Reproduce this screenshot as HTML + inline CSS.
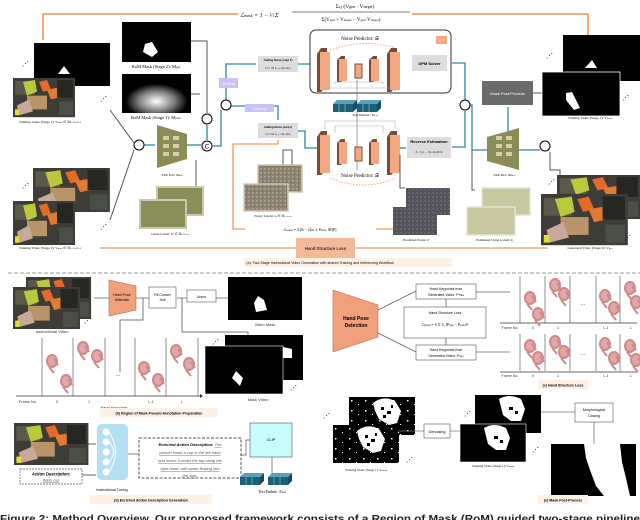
<!DOCTYPE html>
<html><head><meta charset="utf-8"><style>
html,body{margin:0;padding:0;background:#fff;width:640px;height:520px;overflow:hidden}
svg{display:block;font-family:"Liberation Sans",sans-serif}
.s{font-family:"Liberation Serif",serif}
</style></head><body>
<svg width="640" height="520" viewBox="0 0 640 520" xmlns="http://www.w3.org/2000/svg">
<defs>
<g id="photo">
<rect x="0" y="0" width="62" height="40" fill="#3e3c36"/>
<rect x="2" y="3" width="20" height="14" fill="#5b5a4a"/>
<path d="M10 4 L22 2 L24 14 L14 18 Z" fill="#b9c83c"/>
<path d="M26 4 L34 2 L38 12 L30 14 Z" fill="#e46a2a"/>
<path d="M34 12 L44 10 L46 20 L38 22 Z" fill="#e07a35"/>
<rect x="14" y="18" width="20" height="14" fill="#b89468"/>
<path d="M4 28 L16 22 L20 34 L6 38 Z" fill="#c8a898"/>
<rect x="44" y="2" width="16" height="18" fill="#262622"/>
<rect x="46" y="24" width="14" height="14" fill="#4a5048"/>
<rect x="2" y="32" width="4" height="6" fill="#e0e030"/>
</g>
<g id="cube">
<path d="M0 4 L20 4 L20 12 L0 12 Z" fill="#1e5f78"/>
<path d="M0 4 L4 0 L24 0 L20 4 Z" fill="#5aa0b8"/>
<path d="M20 4 L24 0 L24 8 L20 12 Z" fill="#154a60"/>
<path d="M6 4 L6 12 M12 4 L12 12" stroke="#8cc" stroke-width="0.6"/>
</g>
<g id="unet">
<path d="M0 6 L4 0 L10 0 L10 38 L4 44 L0 44 Z" fill="#7a4a3a"/>
<rect x="3" y="4" width="10" height="38" fill="#f4a882"/>
<path d="M20 12 L24 8 L28 8 L28 30 L24 34 L20 34 Z" fill="#7a4a3a"/>
<rect x="22" y="11" width="8" height="22" fill="#f4a882"/>
<rect x="38" y="16" width="7" height="14" fill="#f4a882" stroke="#7a4a3a" stroke-width="1"/>
<path d="M52 12 L56 8 L60 8 L60 30 L56 34 L52 34 Z" fill="#7a4a3a"/>
<rect x="54" y="11" width="8" height="22" fill="#f4a882"/>
<path d="M70 6 L74 0 L80 0 L80 38 L74 44 L70 44 Z" fill="#7a4a3a"/>
<rect x="73" y="4" width="10" height="38" fill="#f4a882"/>
</g>
<g id="hand">
<ellipse cx="6" cy="6" rx="5" ry="6" fill="#e0a8a8" stroke="#d08888" stroke-width="2"/>
<path d="M3 12 L8 18 M8 4 L12 10" stroke="#d08888" stroke-width="2"/>
</g>
<pattern id="spk" width="14" height="10" patternUnits="userSpaceOnUse"><rect width="14" height="10" fill="#000"/><rect x="2" y="3" width="1.5" height="1.5" fill="#fff"/><rect x="9" y="7" width="1" height="1" fill="#fff"/></pattern>
<g id="nm">
<rect x="0" y="0" width="66" height="38" fill="url(#spk)"/>
<path d="M24 6 Q34 -2 46 4 L52 14 L48 26 L40 28 L30 22 L26 14 Z" fill="#fff"/>
<g fill="#000"><rect x="32" y="10" width="3" height="3"/><rect x="38" y="14" width="4" height="3"/><rect x="34" y="18" width="3" height="3"/><rect x="42" y="8" width="2" height="3"/></g>
</g>
<radialGradient id="glow" cx="0.5" cy="0.7" r="0.45"><stop offset="0" stop-color="#fff"/><stop offset="0.6" stop-color="#777"/><stop offset="1" stop-color="#000"/></radialGradient>
<pattern id="noise1" width="4" height="4" patternUnits="userSpaceOnUse"><rect width="4" height="4" fill="#8e8270"/><rect width="2" height="2" fill="#a39884"/><rect x="2" y="2" width="1" height="1" fill="#6e6455"/></pattern>
<pattern id="noise2" width="4" height="4" patternUnits="userSpaceOnUse"><rect width="4" height="4" fill="#5a5060"/><rect width="2" height="2" fill="#6e5e70"/><rect x="2" y="2" width="1" height="1" fill="#3e5848"/></pattern>
</defs>

<!-- ========== (a) ========== -->
<path d="M43 40 L43 14 L238 14 M412 14 L588 14 L588 40" stroke="#f08030" stroke-width="1.3" fill="none"/>
<text x="240" y="17" font-size="6" class="s" font-style="italic">ℒ<tspan font-size="4">mask</tspan> = 1 − ¹⁄ₗ Σ</text>
<text x="355" y="8" font-size="5.5" class="s" text-anchor="middle">Σ<tspan font-size="4">i,j</tspan> (V<tspan font-size="4">gen</tspan> · V<tspan font-size="4">target</tspan>)</text>
<line x1="292" y1="12" x2="410" y2="12" stroke="#000" stroke-width="0.5"/>
<text x="351" y="21" font-size="5" class="s" text-anchor="middle">Σ(V<tspan font-size="3.5">gen</tspan> + V<tspan font-size="3.5">target</tspan> − V<tspan font-size="3.5">gen</tspan>·V<tspan font-size="3.5">target</tspan>)</text>

<text x="22" y="66" font-size="7">⋰</text>
<rect x="34" y="43" width="76" height="43" fill="#000"/>
<path d="M58 74 L64 66 L70 74 Z" fill="#fff"/>
<use href="#photo" transform="translate(13,78) scale(1.0,0.98)"/>
<text x="50" y="123" font-size="3.5" class="s" text-anchor="middle">Training Video (Stage 1): V<tspan font-size="2.5">train</tspan> ∈ ℝ<tspan font-size="2.5">L×H×W×3</tspan></text>
<text x="100" y="101" font-size="7">⋰</text>
<text x="22" y="188" font-size="7">⋰</text>
<use href="#photo" transform="translate(33,168) scale(1.24,1.1)"/>
<use href="#photo" transform="translate(13,201) scale(1.0,1.1)"/>
<text x="50" y="249" font-size="3.5" class="s" text-anchor="middle">Training Video (Stage 2): V<tspan font-size="2.5">train</tspan> ∈ ℝ<tspan font-size="2.5">L×H×W×3</tspan></text>
<text x="100" y="229" font-size="7">⋰</text>

<rect x="122" y="22" width="69" height="40" fill="#000"/>
<path d="M145 44 L152 42 L158 52 L152 57 L143 52 Z" fill="#fff"/>
<text x="156" y="68" font-size="4.5" class="s" text-anchor="middle">RoM Mask (Stage 2): M<tspan font-size="3">gen</tspan></text>
<rect x="122" y="74" width="69" height="39" fill="url(#glow)"/>
<text x="156" y="119" font-size="4.5" class="s" text-anchor="middle">RoM Mask (Stage 1): M<tspan font-size="3">prior</tspan></text>

<g stroke="#555" stroke-width="1" fill="none">
<path d="M191 41 L207 41 L207 113"/>
<path d="M191 94 L200 94"/>
<path d="M110 110 L134 143"/>
<path d="M110 220 L134 150"/>
<path d="M196 190 L196 160"/>
</g>
<g stroke="#2a88a8" stroke-width="1.3" fill="none">
<path d="M144 145 L155 145"/>
<path d="M187 145 L201 145"/>
<path d="M207 125 L207 140"/>
<path d="M213 146 L221 146 L221 110"/>
<path d="M226 100 L226 64 L256 64"/>
<path d="M231 106 L278 106 L278 120"/>
<path d="M298 64 L318 64"/>
<path d="M298 131 L305 131 L305 148 L318 148"/>
<path d="M452 63 L465 63 L465 100"/>
<path d="M452 147 L465 147 L465 111"/>
<path d="M470 105 L472 105 L472 150 L487 150"/>
<path d="M519 150 L540 150"/>
<path d="M510 150 L510 140 L508 140 L508 107"/>
<path d="M400 63 L410 63"/>
<path d="M400 148 L406 148"/>
</g>
<g fill="#fff" stroke="#000" stroke-width="1">
<circle cx="139" cy="145" r="5"/><circle cx="207" cy="119" r="5"/><circle cx="207" cy="146" r="5"/><circle cx="226" cy="105" r="5"/><circle cx="465" cy="105" r="5"/><circle cx="545" cy="146" r="5"/>
</g>
<text x="207" y="148.5" font-size="6.5" text-anchor="middle">C</text>

<path d="M157 125 L187 134 L187 159 L157 168 Z" fill="#8a8c55"/>
<g fill="#d8cca8"><rect x="163" y="136" width="6" height="4"/><rect x="173" y="136" width="6" height="4"/><rect x="163" y="144" width="6" height="4"/><rect x="173" y="144" width="6" height="4"/><rect x="163" y="152" width="6" height="4"/><rect x="173" y="152" width="6" height="4"/></g>
<text x="172" y="176" font-size="3.5" class="s" text-anchor="middle">VAE Enc: Φ<tspan font-size="2.5">Enc</tspan></text>
<rect x="157" y="187" width="46" height="28" fill="#8a8f5a" stroke="#ccc8b0" stroke-width="2"/>
<rect x="140" y="200" width="46" height="28" fill="#8a8f5a" stroke="#ccc8b0" stroke-width="2"/>
<text x="170" y="235" font-size="3.5" class="s" text-anchor="middle">Clean Latent: z<tspan font-size="2.5">0</tspan> ∈ ℝ<tspan font-size="2.5">L×h×w</tspan></text>

<rect x="219" y="78" width="19" height="10" fill="#c8c4f8"/>
<text x="228.5" y="85" font-size="4" fill="#fff" text-anchor="middle">Testing</text>
<rect x="245" y="104" width="29" height="8" fill="#c8c4f8"/>
<text x="259.5" y="110" font-size="4" fill="#fff" text-anchor="middle">Training</text>

<rect x="258" y="56" width="40" height="16" fill="#ddd"/>
<text x="278" y="61" font-size="2.8" font-weight="bold" text-anchor="middle">Adding Noise (step T)</text>
<text x="278" y="69" font-size="2.8" text-anchor="middle">z<tspan font-size="2">T</tspan> = √ᾱ z₀ + √(1−ᾱ) ε</text>
<rect x="258" y="123" width="40" height="15" fill="#ddd"/>
<text x="278" y="128" font-size="2.8" font-weight="bold" text-anchor="middle">Adding Noise (step t)</text>
<text x="278" y="135" font-size="2.8" text-anchor="middle">z<tspan font-size="2">t</tspan> = √ᾱ z₀ + √(1−ᾱ) ε</text>

<rect x="310" y="30" width="141" height="63" rx="6" fill="#fff" stroke="#333" stroke-width="1"/>
<text x="360" y="40" font-size="5" class="s" text-anchor="middle">Noise Predictor: 𝒟</text>
<rect x="436" y="36" width="11" height="8" fill="#f4a882"/>
<text x="441.5" y="42" font-size="3.5" fill="#fff" text-anchor="middle">X T</text>
<path d="M330 50 Q365 38 395 48" stroke="#f4a882" stroke-dasharray="1.5,1.5" fill="none"/>
<use href="#unet" transform="translate(317,48)"/>
<g stroke="#aaa" stroke-width="0.6" fill="none"><path d="M325 92 L325 88 L395 88 L395 92 M335 84 L335 82 L383 82 L383 84"/></g>
<path d="M357 80 L357 170" stroke="#666" stroke-width="0.6"/>
<rect x="412" y="55" width="35" height="16" fill="#ddd"/>
<text x="429.5" y="65" font-size="4" font-weight="bold" text-anchor="middle">DPM Solver</text>

<use href="#cube" transform="translate(333,100)"/>
<use href="#cube" transform="translate(357,100)"/>
<text x="365" y="116" font-size="3.5" class="s" text-anchor="middle">Text Embed.: E<tspan font-size="2.5">text</tspan></text>

<g stroke="#aaa" stroke-width="0.6" fill="none"><path d="M325 129 L325 121 L395 121 L395 129 M335 133 L335 126 L383 126 L383 133"/></g>
<use href="#unet" transform="translate(317,131)"/>
<path d="M330 178 Q365 192 395 178" stroke="#f4a882" stroke-dasharray="1.5,1.5" fill="none"/>
<text x="360" y="177" font-size="5" class="s" text-anchor="middle">Noise Predictor: 𝒟</text>
<rect x="407" y="137" width="44" height="21" fill="#ddd"/>
<text x="429" y="143" font-size="4" font-weight="bold" text-anchor="middle">Reverse Estimation</text>
<text x="429" y="153" font-size="2.8" text-anchor="middle">ẑ₀ = (z<tspan font-size="2">t</tspan> − √(1−ᾱ) ε̂)/√ᾱ</text>

<path d="M283 190 L283 150 L292 150 L292 180" stroke="#555" fill="none"/>
<rect x="258" y="165" width="44" height="27" fill="url(#noise1)" stroke="#ccc8b0" stroke-width="1.5"/>
<rect x="244" y="184" width="44" height="27" fill="url(#noise1)" stroke="#ccc8b0" stroke-width="1.5"/>
<text x="273" y="217" font-size="3.5" class="s" text-anchor="middle">Noisy Latent: z<tspan font-size="2.5">t</tspan> ∈ ℝ<tspan font-size="2.5">L×h×w</tspan></text>
<path d="M405 188 L400 188 L400 155" stroke="#555" fill="none"/>
<rect x="406" y="188" width="44" height="27" fill="url(#noise2)"/>
<rect x="393" y="207" width="44" height="28" fill="url(#noise2)"/>
<text x="416" y="241" font-size="3.5" class="s" text-anchor="middle">Predicted Noise: ε̂</text>
<path d="M475 190 L472 190 L472 150" stroke="#555" fill="none"/>
<rect x="482" y="188" width="48" height="27" fill="#c8c8a0" stroke="#e4e2d0" stroke-width="1.5"/>
<rect x="467" y="207" width="48" height="28" fill="#c8c8a0" stroke="#e4e2d0" stroke-width="1.5"/>
<text x="495" y="241" font-size="3.5" class="s" text-anchor="middle">Estimated Clean Latent: ẑ₀</text>

<path d="M487 137 L519 128 L519 170 L487 161 Z" fill="#8a8c55"/>
<g fill="#d8cca8"><rect x="496" y="136" width="6" height="4"/><rect x="506" y="136" width="6" height="4"/><rect x="496" y="144" width="6" height="4"/><rect x="506" y="144" width="6" height="4"/><rect x="496" y="152" width="6" height="4"/><rect x="506" y="152" width="6" height="4"/></g>
<text x="504" y="176" font-size="3.5" class="s" text-anchor="middle">VAE Dec: Φ<tspan font-size="2.5">Dec</tspan></text>
<rect x="482" y="81" width="51" height="24" fill="#6a6a6a"/>
<text x="507.5" y="95" font-size="4" fill="#fff" text-anchor="middle">Mask Post-Process</text>
<path d="M533 93 L542 93" stroke="#555"/>
<text x="546" y="58" font-size="7">⋰</text>
<rect x="563" y="35" width="77" height="46" fill="#000"/>
<path d="M585 68 L592 60 L597 68 Z" fill="#fff"/>
<rect x="542" y="72" width="78" height="44" fill="#000" stroke="#fff" stroke-width="0.8"/>
<path d="M566 93 L572 92 L580 108 L574 110 L566 100 Z" fill="#fff"/>
<text x="622" y="100" font-size="7">⋰</text>
<text x="590" y="119" font-size="3.5" class="s" text-anchor="middle">Training Video (Stage 1): V<tspan font-size="2.5">mask</tspan></text>
<path d="M550 152 L550 170 L560 170 L560 176" stroke="#555" fill="none"/>
<text x="548" y="184" font-size="7">⋰</text>
<use href="#photo" transform="translate(557,175) scale(1.35,1.1)"/>
<use href="#photo" transform="translate(541,194) scale(1.4,1.28)"/>
<text x="624" y="240" font-size="7">⋰</text>
<text x="590" y="249" font-size="3.5" class="s" text-anchor="middle">Generated Video (Stage 2): V<tspan font-size="2.5">gen</tspan></text>

<path d="M278 140 L278 144 L233 144 L233 229 L245 229" stroke="#f08030" stroke-width="1.1" fill="none"/>
<path d="M393 229 L376 229" stroke="#f08030" stroke-width="1.1"/>
<text x="310" y="231" font-size="4" class="s" text-anchor="middle">ℒ<tspan font-size="3">noise</tspan> = 𝔼[‖ε − ε̂(z<tspan font-size="3">t</tspan>, t, E<tspan font-size="3">text</tspan>, M)‖²]</text>
<path d="M100 248 L296 248 M355 248 L548 248" stroke="#f08030" stroke-width="1.1"/>
<rect x="296" y="238" width="59" height="20" fill="#f4b89a"/>
<text x="325.5" y="250" font-size="4.2" font-weight="bold" fill="#333" text-anchor="middle">Hand Structure Loss</text>
<rect x="244" y="258" width="208" height="9" fill="#fdf1e6"/>
<text x="320" y="264" font-size="3.6" text-anchor="middle">(a): Two-Stage Instructional Video Generation with shared Training and Inferencing Workflow</text>
<line x1="8" y1="273" x2="640" y2="273" stroke="#bbb" stroke-width="1.5" stroke-dasharray="4,2"/>

<!-- ========== (b) ========== -->
<use href="#photo" transform="translate(26,277) scale(1.05,1.05)"/>
<use href="#photo" transform="translate(13,287) scale(1.08,1.05)"/>
<text x="84" y="323" font-size="7">⋰</text>
<text x="52" y="333" font-size="4" text-anchor="middle" fill="#333">Instructional Video</text>
<path d="M94 298 L109 298 M136 298 L149 298 M177 298 L187 298 M216 298 L228 298" stroke="#888" fill="none"/>
<path d="M109 280 L136 286 L136 310 L109 316 Z" fill="#f0a07a" stroke="#b07050" stroke-width="0.6"/>
<text x="122" y="296" font-size="3.5" text-anchor="middle">Hand Pose</text>
<text x="122" y="301" font-size="3.5" text-anchor="middle">Detection</text>
<rect x="149" y="287" width="27" height="21" fill="#fff" stroke="#555" stroke-width="0.6"/>
<text x="162.5" y="296" font-size="3.4" text-anchor="middle">Fill Convex</text>
<text x="162.5" y="301" font-size="3.4" text-anchor="middle">Hull</text>
<rect x="187" y="290" width="29" height="12" fill="#fff" stroke="#555" stroke-width="0.6"/>
<text x="201.5" y="298" font-size="3.5" text-anchor="middle">Union</text>
<rect x="228" y="277" width="74" height="43" fill="#000"/>
<path d="M254 303 L258 296 L264 300 L267 310 L256 312 Z" fill="#fff"/>
<text x="265" y="326" font-size="4" text-anchor="middle" fill="#333">Video Mask</text>
<path d="M143 298 L143 320 L120 320 L120 372 M182 298 L182 332 L248 332 L248 336" stroke="#777" stroke-width="1" fill="none"/>
<g stroke="#777" stroke-width="0.8"><line x1="42" y1="338" x2="42" y2="396"/><line x1="73" y1="338" x2="73" y2="396"/><line x1="105" y1="338" x2="105" y2="396"/><line x1="135" y1="338" x2="135" y2="396"/><line x1="166" y1="338" x2="166" y2="396"/><line x1="198" y1="338" x2="198" y2="396"/></g>
<path d="M16 396 L200 396" stroke="#333" stroke-width="0.8"/><path d="M200 394 L203 396 L200 398 Z" fill="#333"/>
<use href="#hand" transform="translate(46,355)"/><use href="#hand" transform="translate(60,375)"/>
<use href="#hand" transform="translate(77,342)"/><use href="#hand" transform="translate(91,350)"/>
<use href="#hand" transform="translate(138,362)"/><use href="#hand" transform="translate(152,374)"/>
<use href="#hand" transform="translate(170,345)"/><use href="#hand" transform="translate(183,358)"/>
<text x="118" y="376" font-size="5" text-anchor="middle">…</text>
<g font-size="3.8" text-anchor="middle" fill="#333"><text x="28" y="403">Frame No.</text><text x="57" y="403">0</text><text x="89" y="403">1</text><text x="151" y="403">L-1</text><text x="182" y="403">L</text></g>
<text x="114" y="409" font-size="3.8" text-anchor="middle" fill="#333">Hand Keypoints</text>
<text x="212" y="344" font-size="7">⋰</text>
<rect x="225" y="335" width="78" height="45" fill="#000"/>
<path d="M283 347 L292 349 L292 358 L283 358 Z" fill="#fff"/>
<rect x="205" y="346" width="78" height="48" fill="#000" stroke="#fff" stroke-width="0.6"/>
<path d="M232 378 L236 371 L243 378 L240 386 Z" fill="#fff"/>
<text x="290" y="390" font-size="7">⋰</text>
<text x="258" y="401" font-size="4" text-anchor="middle" fill="#333">Mask Video</text>
<rect x="100" y="408" width="118" height="9" fill="#fdf1e6"/>
<text x="159" y="414.5" font-size="3.6" text-anchor="middle" font-weight="bold">(b) Region of Mask Pseudo Annotation Preparation</text>

<!-- ========== (c) ========== -->
<path d="M333 290 L378 305 L378 337 L333 352 Z" fill="#f0a07a" stroke="#b07050" stroke-width="0.6"/>
<text x="356" y="320" font-size="5" font-weight="bold" text-anchor="middle">Hand Pose</text>
<text x="356" y="327" font-size="5" font-weight="bold" text-anchor="middle">Detection</text>
<path d="M378 310 L416 291 M378 333 L416 352 M446 299 L446 307 M446 338 L446 345 M476 292 L510 292 M476 352 L510 352" stroke="#666" stroke-width="0.8" fill="none"/>
<rect x="416" y="284" width="60" height="15" fill="#fff" stroke="#555" stroke-width="0.6"/>
<text x="446" y="290" font-size="3.5" text-anchor="middle">Hand Keypoints from</text>
<text x="446" y="296" font-size="3.5" text-anchor="middle">Generated Video: P<tspan font-size="2.5">Train</tspan></text>
<rect x="404" y="307" width="82" height="31" fill="#fff" stroke="#555" stroke-width="0.6"/>
<text x="445" y="314" font-size="3.6" text-anchor="middle">Hand Structure Loss</text>
<text x="445" y="326" font-size="4" class="s" text-anchor="middle">ℒ<tspan font-size="3">hand</tspan> = ¹⁄ₗ Σ ¹⁄ₖ ‖P<tspan font-size="3">gen</tspan> − P<tspan font-size="3">prior</tspan>‖²</text>
<rect x="416" y="345" width="60" height="15" fill="#fff" stroke="#555" stroke-width="0.6"/>
<text x="446" y="351" font-size="3.5" text-anchor="middle">Hand Keypoints from</text>
<text x="446" y="357" font-size="3.5" text-anchor="middle">Generated Video: P<tspan font-size="2.5">Gen</tspan></text>
<g stroke="#777" stroke-width="0.8">
<line x1="520" y1="276" x2="520" y2="323"/><line x1="545" y1="276" x2="545" y2="323"/><line x1="570" y1="276" x2="570" y2="323"/><line x1="596" y1="276" x2="596" y2="323"/><line x1="620" y1="276" x2="620" y2="323"/>
<line x1="520" y1="334" x2="520" y2="371"/><line x1="545" y1="334" x2="545" y2="371"/><line x1="570" y1="334" x2="570" y2="371"/><line x1="596" y1="334" x2="596" y2="371"/><line x1="620" y1="334" x2="620" y2="371"/>
</g>
<path d="M500 323 L637 323 M500 372 L637 372" stroke="#333" stroke-width="0.8"/>
<use href="#hand" transform="translate(524,292)"/><use href="#hand" transform="translate(532,308)"/>
<use href="#hand" transform="translate(549,279)"/><use href="#hand" transform="translate(558,288)"/>
<use href="#hand" transform="translate(599,290)"/><use href="#hand" transform="translate(608,302)"/>
<use href="#hand" transform="translate(624,282)"/><use href="#hand" transform="translate(630,296)"/>
<use href="#hand" transform="translate(524,340)"/><use href="#hand" transform="translate(532,352)"/>
<use href="#hand" transform="translate(549,336)"/><use href="#hand" transform="translate(558,346)"/>
<use href="#hand" transform="translate(599,338)"/><use href="#hand" transform="translate(608,352)"/>
<use href="#hand" transform="translate(624,340)"/><use href="#hand" transform="translate(630,354)"/>
<text x="583" y="305" font-size="5" text-anchor="middle">…</text><text x="583" y="355" font-size="5" text-anchor="middle">…</text>
<g font-size="3.6" text-anchor="middle" fill="#333"><text x="510" y="329">Frame No.</text><text x="533" y="329">0</text><text x="558" y="329">1</text><text x="606" y="329">L-1</text><text x="631" y="329">L</text>
<text x="510" y="377">Frame No.</text><text x="533" y="377">0</text><text x="558" y="377">1</text><text x="606" y="377">L-1</text><text x="631" y="377">L</text></g>
<rect x="538" y="380" width="50" height="9" fill="#fdf1e6"/>
<text x="563" y="386.5" font-size="3.6" text-anchor="middle" font-weight="bold">(c) Hand Structure Loss</text>

<!-- ========== (d) ========== -->
<use href="#photo" transform="translate(14,423) scale(1.2,1.05)"/>
<rect x="20" y="469" width="62" height="15" fill="#fff" stroke="#555" stroke-width="0.7" stroke-dasharray="2,1"/>
<text x="51" y="475.5" font-size="4.2" font-weight="bold" font-style="italic" text-anchor="middle">Action Description:</text>
<text x="51" y="481.5" font-size="3.8" font-style="italic" text-anchor="middle" fill="#555" text-decoration="underline">Wash cup</text>
<path d="M88 444 L96 444 M82 475 L96 475" stroke="#333" stroke-width="0.7"/>
<rect x="97" y="424" width="31" height="56" rx="5" fill="#b4e0f4"/>
<g fill="#fff"><circle cx="106" cy="432" r="3.5"/><circle cx="106" cy="442" r="3.5"/><circle cx="106" cy="452" r="3.5"/><circle cx="106" cy="462" r="3.5"/><circle cx="106" cy="472" r="3.5"/></g>
<path d="M109 432 Q122 452 109 472 M109 442 Q118 452 109 462" stroke="#fff" fill="none"/>
<text x="112" y="491" font-size="3.6" text-anchor="middle">Instructional Tuning</text>
<path d="M128 454 L139 454" stroke="#555" stroke-width="0.7"/>
<rect x="139" y="438" width="102" height="40" fill="#fff" stroke="#555" stroke-width="1" stroke-dasharray="3,1.5"/>
<g font-size="4" font-style="italic" text-anchor="middle" fill="#555">
<text x="190" y="446"><tspan font-weight="bold" fill="#000">Enriched Action Description: </tspan><tspan text-decoration="underline">The</tspan></text>
<text x="190" y="454" text-decoration="underline">person holds a cup in the left hand</text>
<text x="190" y="462" text-decoration="underline">and rinses it under the tap using the</text>
<text x="190" y="470" text-decoration="underline">right hand, with water flowing into</text>
<text x="190" y="477" text-decoration="underline">the sink.</text></g>
<path d="M241 455 L246 455 L246 440 L250 440 M272 457 L272 475" stroke="#555" stroke-width="0.7" fill="none"/>
<rect x="250" y="423" width="42" height="34" fill="#c8fcfc" stroke="#555" stroke-width="0.6"/>
<text x="271" y="441" font-size="3.8" text-anchor="middle">CLIP</text>
<use href="#cube" transform="translate(240,473)"/>
<use href="#cube" transform="translate(268,473)"/>
<text x="272" y="493" font-size="3.8" class="s" text-anchor="middle">Text Embed.: E<tspan font-size="2.8">text</tspan></text>
<rect x="90" y="495" width="122" height="9" fill="#fdf1e6"/>
<text x="151" y="501.5" font-size="3.6" text-anchor="middle" font-weight="bold">(d) Enriched Action Description Generation</text>

<!-- ========== (e) ========== -->
<use href="#nm" transform="translate(349,397)"/>
<use href="#nm" transform="translate(333,425)"/>
<text x="323" y="418" font-size="7">⋰</text><text x="406" y="462" font-size="7">⋰</text>
<text x="366" y="471" font-size="3.3" class="s" text-anchor="middle">Training Video (Stage 1): V<tspan font-size="2.5">mask</tspan></text>
<path d="M398 431 L424 431 M450 431 L460 431 M541 412 L575 412 M594 422 L594 444" stroke="#777" stroke-width="0.8"/>
<rect x="424" y="424" width="26" height="14" fill="#fff" stroke="#555" stroke-width="0.6"/>
<text x="437" y="433" font-size="3.8" text-anchor="middle">Denoising</text>
<g transform="translate(475,395)"><rect width="66" height="38" fill="#000"/><path d="M24 4 Q34 -2 46 4 L50 14 L46 26 L36 26 L28 20 L26 12 Z" fill="#fff"/><rect x="34" y="12" width="4" height="3" fill="#000"/><rect x="40" y="16" width="3" height="3" fill="#000"/></g>
<g transform="translate(460,424)"><rect width="66" height="38" fill="#000" stroke="#fff" stroke-width="0.6"/><path d="M24 4 Q34 -2 46 4 L50 14 L46 26 L36 26 L28 20 L26 12 Z" fill="#fff"/><rect x="34" y="12" width="4" height="3" fill="#000"/><rect x="40" y="16" width="3" height="3" fill="#000"/></g>
<text x="464" y="416" font-size="7">⋰</text><text x="532" y="452" font-size="7">⋰</text>
<text x="493" y="467" font-size="3.3" class="s" text-anchor="middle">Training Video (Stage 1): V<tspan font-size="2.5">mask</tspan></text>
<rect x="575" y="403" width="38" height="19" fill="#fff" stroke="#555" stroke-width="0.6"/>
<text x="594" y="411" font-size="3.6" text-anchor="middle">Morphological</text>
<text x="594" y="417" font-size="3.6" text-anchor="middle">Closing</text>
<rect x="551" y="444" width="85" height="52" fill="#000"/>
<path d="M584 444 L620 444 L622 462 L626 478 L630 496 L604 496 L596 486 L590 470 L586 458 Z" fill="#fff"/>
<rect x="538" y="495" width="50" height="9" fill="#fdf1e6"/>
<text x="563" y="501.5" font-size="3.6" text-anchor="middle" font-weight="bold">(e) Mask Post-Process</text>

<text x="0" y="522" font-size="10.5" fill="#222" font-weight="bold" textLength="640" lengthAdjust="spacingAndGlyphs">Figure 2: Method Overview. Our proposed framework consists of a Region of Mask (RoM) guided two-stage pipeline</text>
</svg>
</body></html>
